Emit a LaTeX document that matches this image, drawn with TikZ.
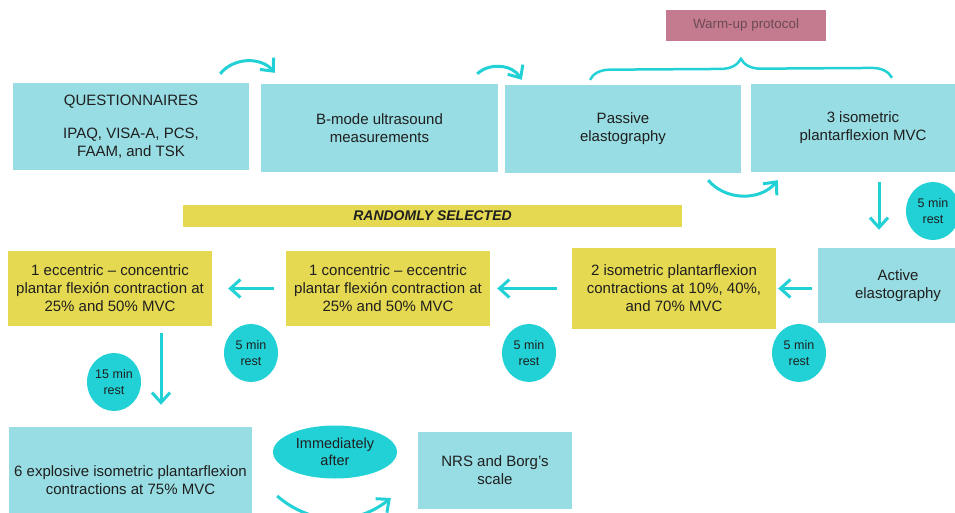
\documentclass[tikz,border=0pt]{standalone}
\usepackage{fontspec}
\setmainfont{Liberation Sans}
\usetikzlibrary{calc}
\usetikzlibrary{arrows.meta}
\usetikzlibrary{shapes.geometric}
\usetikzlibrary{decorations.pathreplacing}
\usepackage{xcolor}
\definecolor{boxcyan}{HTML}{98DDE3}
\definecolor{turq}{HTML}{22D1D6}
\definecolor{boxyellow}{HTML}{E5D951}
\definecolor{warmpink}{HTML}{C47A8F}
\definecolor{warmtext}{HTML}{6B4B55}

\begin{document}
\begin{tikzpicture}[x=1pt, y=-1pt,
 cyanbox/.style={fill=boxcyan, align=center, inner sep=0pt, text=black!88, font=\fontsize{15}{18}\selectfont},
 yellowbox/.style={cyanbox, fill=boxyellow},
 rest/.style={ellipse, fill=turq, minimum width=54pt, minimum height=58pt, inner sep=0pt, align=center, text=black!88, font=\fontsize{12.5}{16}\selectfont},
 flow/.style={turq, line width=3pt, -{Straight Barb[length=10pt,width=18pt]}}]
\useasboundingbox (0,0) rectangle (955,513);
\clip (0,0) rectangle (955,513);

\node[cyanbox, minimum width=236pt, minimum height=87pt] (quest) at (131,126.5) {QUESTIONNAIRES\\[15pt]IPAQ, VISA-A, PCS,\\FAAM, and TSK};
\node[cyanbox, minimum width=237pt, minimum height=88pt] (bmode) at (379.5,128) {B-mode ultrasound\\measurements};
\node[cyanbox, minimum width=236pt, minimum height=88pt] (passive) at (623,129) {Passive\\elastography};
\node[cyanbox, minimum width=224pt, minimum height=88pt] (mvc) at (863,128) {3 isometric\\plantarflexion MVC};
\node[fill=warmpink, minimum width=160pt, minimum height=31pt, inner sep=0pt, text=warmtext, font=\fontsize{13.4}{16}\selectfont] (warm) at (746,25.5) {Warm-up protocol};
\node[fill=boxyellow, minimum width=499pt, minimum height=22pt, inner sep=0pt, text=black!88, font=\fontsize{14}{16}\selectfont\bfseries\itshape] (random) at (432.5,216) {RANDOMLY SELECTED};

\node[cyanbox, minimum width=160pt, minimum height=75pt] (active) at (898,285.5) {Active\\elastography};
\node[yellowbox, minimum width=204pt, minimum height=81pt] (iso) at (674,288.5) {2 isometric plantarflexion\\contractions at 10\%, 40\%,\\and 70\% MVC};
\node[yellowbox, minimum width=204pt, minimum height=75pt] (conc) at (388,288.5) {1 concentric -- eccentric\\plantar flexión contraction at\\25\% and 50\% MVC};
\node[yellowbox, minimum width=204pt, minimum height=75pt] (ecc) at (110,288.5) {1 eccentric -- concentric\\plantar flexión contraction at\\25\% and 50\% MVC};
\node[cyanbox, minimum width=243pt, minimum height=106pt] (explosive) at (130.5,480) {6 explosive isometric plantarflexion\\contractions at 75\% MVC};
\node[cyanbox, minimum width=154pt, minimum height=77pt] (nrs) at (495,470.5) {NRS and Borg's\\scale};
\node[rest, minimum width=124pt, minimum height=53pt, font=\fontsize{14.5}{17}\selectfont] (after) at (335,452) {Immediately\\after};

\node[rest] (resta) at (933,211) {5 min\\rest};
\foreach \x/\n in {799/b,529/c,251/d}
 \node[rest] (rest\n) at (\x,353) {5 min\\rest};
\node[rest] (reste) at (114,382) {15 min\\rest};

\draw[turq, line width=2.5pt, decorate, decoration={brace, amplitude=20pt}] ([xshift=-33pt,yshift=5pt]passive.north) -- ([xshift=29pt,yshift=6pt]mvc.north);

\draw[flow] ([xshift=-29pt,yshift=9pt]quest.north east) to[bend left=50] ([xshift=14pt,yshift=11pt]bmode.north west);
\draw[flow] ([xshift=-21pt,yshift=10pt]bmode.north east) to[bend left=50] ([xshift=17pt,yshift=5pt]passive.north west);
\draw[flow] ([xshift=-33pt,yshift=-7pt]passive.south east) to[bend right=50] ([xshift=27pt,yshift=-8pt]mvc.south west);
\draw[flow] ([xshift=16pt,yshift=-10pt]mvc.south) -- ([xshift=-19pt,yshift=18pt]active.north);
\draw[flow] ([xshift=-6pt,yshift=-3pt]active.west) -- ([xshift=2pt]iso.east);
\draw[flow] ([xshift=-15pt]iso.west) -- ([xshift=7pt]conc.east);
\draw[flow] ([xshift=-12pt]conc.west) -- ([xshift=16pt]ecc.east);
\draw[flow] ([xshift=51pt,yshift=-7pt]ecc.south) -- ([xshift=30.5pt,yshift=22pt]explosive.north);
\draw[flow] ([xshift=25pt,yshift=-16pt]explosive.east) to[bend right=40] ([xshift=-27pt,yshift=-27.5pt]nrs.west);
\end{tikzpicture}
\end{document}
